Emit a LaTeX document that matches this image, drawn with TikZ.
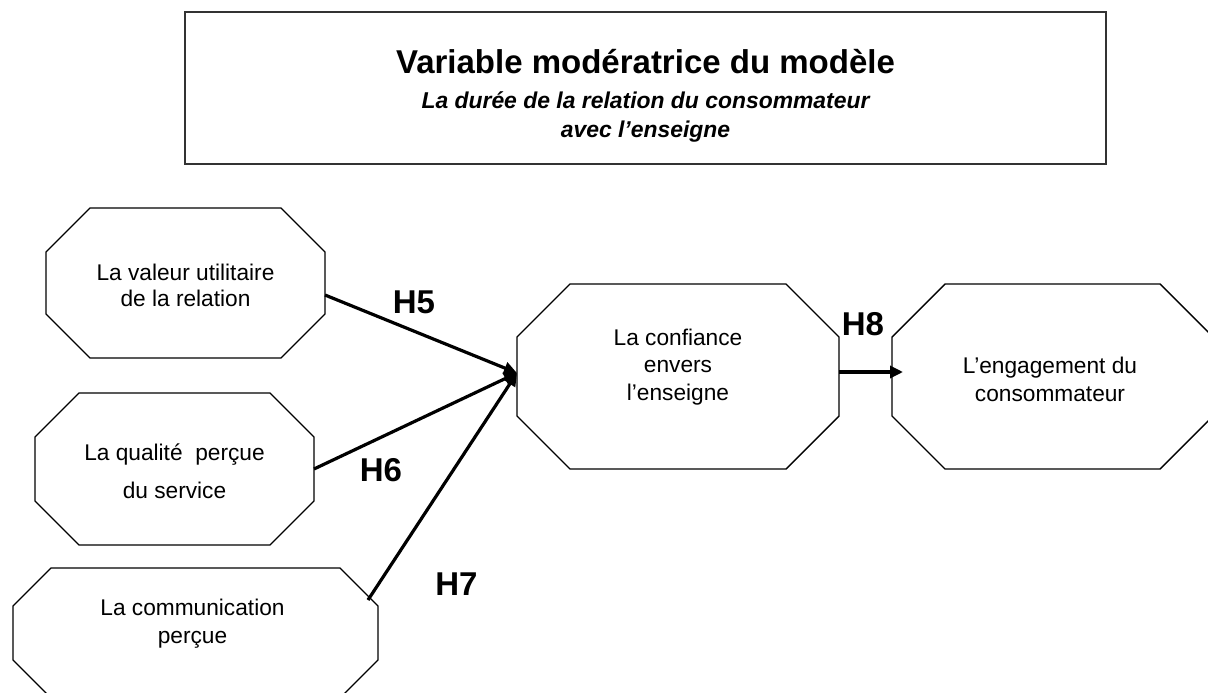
\documentclass[tikz,border=0pt]{standalone}
\usepackage{fontspec}
\setmainfont{Liberation Sans}
\usetikzlibrary{arrows.meta}
\newcommand\octdraw[2]{%
  \draw[octline] ([xshift=#2]#1.north west) -- ([xshift=-#2]#1.north east)
    -- ([yshift=-#2]#1.north east) -- ([yshift=#2]#1.south east)
    -- ([xshift=-#2]#1.south east) -- ([xshift=#2]#1.south west)
    -- ([yshift=#2]#1.south west) -- ([yshift=-#2]#1.north west) -- cycle;}
\begin{document}
\begin{tikzpicture}[x=1pt,y=-1pt,
  octbox/.style={rectangle, draw=none, inner sep=0pt, outer sep=0pt},
  octline/.style={line width=1.4pt, line join=miter},
  txt/.style={align=center, inner sep=0pt},
  hlab/.style={inner sep=0pt, font=\fontsize{33}{36}\selectfont\bfseries},
  arr/.style={line width=3.2pt, -{Triangle[length=13pt,width=12pt]}},
]
\useasboundingbox (0,0) rectangle (1208,693);
% moderator box
\node[draw=black!80, line width=2pt, minimum width=921pt, minimum height=152pt, inner sep=0pt] (mod) at (645.5,88) {};
\node[anchor=base, inner sep=0pt, font=\fontsize{33}{36}\selectfont\bfseries] (title) at (645.5,74) {Variable modératrice du modèle};
\node[anchor=base, inner sep=0pt, font=\fontsize{22.9}{29}\selectfont\bfseries\itshape] (sub1) at (645.5,108) {La durée de la relation du consommateur};
\node[anchor=base, inner sep=0pt, font=\fontsize{22.9}{29}\selectfont\bfseries\itshape] (sub2) at (645.5,137) {avec l’enseigne};
% octagons (frames)
\node[octbox, minimum width=279pt, minimum height=150pt] (c1) at (185.5,283) {};
\node[octbox, minimum width=279pt, minimum height=152pt] (c2) at (174.5,469) {};
\node[octbox, minimum width=365pt, minimum height=130pt] (c3) at (195.5,633) {};
\node[octbox, minimum width=322pt, minimum height=185pt] (c4) at (678,376.5) {};
\node[octbox, minimum width=321pt, minimum height=185pt] (c5) at (1052.5,376.5) {};
\octdraw{c1}{44pt}
\octdraw{c2}{44pt}
\octdraw{c3}{38pt}
\octdraw{c4}{53pt}
\octdraw{c5}{53pt}
% texts
\node[txt, font=\fontsize{22.7}{26}\selectfont] (t1) at (185.5,285) {La valeur utilitaire\\de la relation};
\node[txt, font=\fontsize{22.7}{38}\selectfont] (t2) at (174.5,471) {La qualité~~perçue\\du service};
\node[txt, font=\fontsize{22.7}{28}\selectfont] (t3) at (192.5,624) {La communication\\perçue};
\node[txt, font=\fontsize{22.7}{27.5}\selectfont] (t4) at (678,367) {La confiance\\envers\\l’enseigne};
\node[txt, font=\fontsize{22.7}{28}\selectfont] (t5) at (1050,379) {L’engagement du\\consommateur};
% arrows
\coordinate (h7s) at (368,600);
\draw[arr] ([yshift=-12pt]c1.east) -- ([yshift=3.5pt]c4.west);
\draw[arr] (c2.east) -- ([yshift=3.5pt]c4.west);
\draw[arr] (h7s) -- ([yshift=3.5pt]c4.west);
\draw[arr] ([yshift=4.5pt]c4.east) -- ([xshift=11pt,yshift=4.5pt]c5.west);
% labels
\node[hlab] (h5) at (414,302) {H5};
\node[hlab] (h6) at (381,470) {H6};
\node[hlab] (h7) at (456.5,584.5) {H7};
\node[hlab] (h8) at (863,324.5) {H8};
\end{tikzpicture}
\end{document}
